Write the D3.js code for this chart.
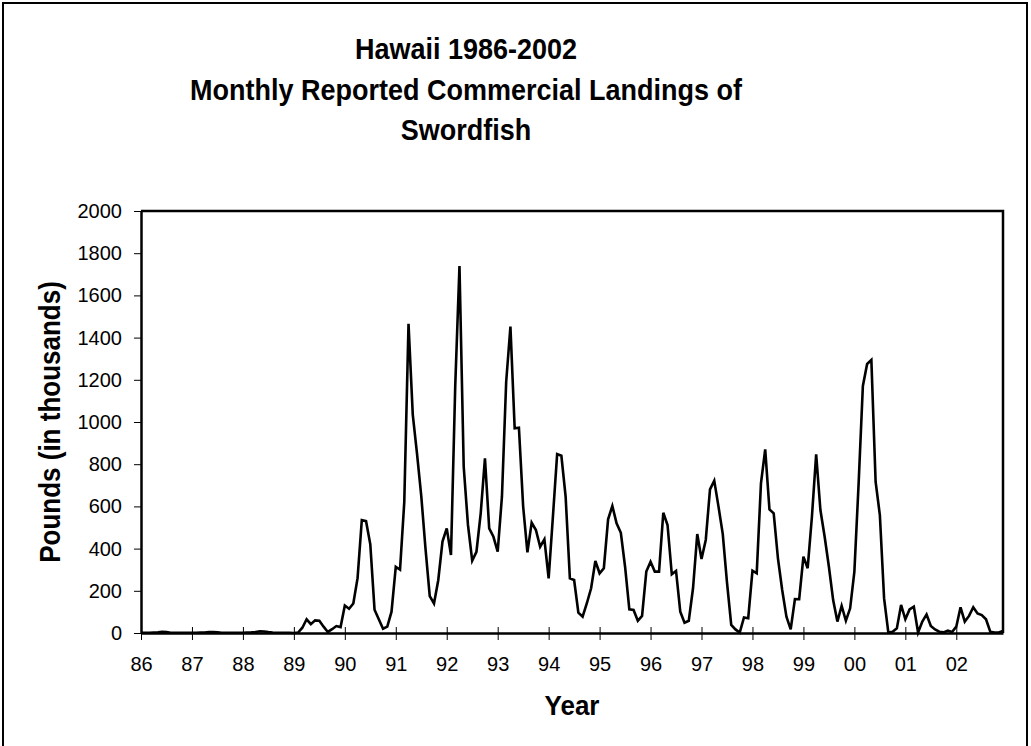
<!DOCTYPE html>
<meta charset="utf-8">
<style>
  body { margin: 0; background: #fff; }
  text { font-family: "Liberation Sans", Arial, sans-serif; fill: #000; }
</style>

<!-- Load d3.js -->
<script src="https://d3js.org/d3.v7.min.js"></script>

<div id="chart"></div>

<script>

// year labels on the x axis, one per january
var yearLabels = ["86", "87", "88", "89", "90", "91", "92", "93", "94",
                  "95", "96", "97", "98", "99", "00", "01", "02"]

var yTickValues = [0, 200, 400, 600, 800, 1000, 1200, 1400, 1600, 1800, 2000]

var titleLines = ["Hawaii 1986-2002", "Monthly Reported Commercial Landings of", "Swordfish"]

// monthly landings, thousands of pounds, jan 1986 .. dec 2002
var landings86to88 = [1, 1, 1, 2, 3, 6, 4, 1, 1, 1, 1, 1,
                      1, 1, 2, 2, 4, 5, 3, 1, 1, 1, 1, 1,
                      1, 2, 3, 5, 8, 7, 4, 2, 1, 1, 1, 1]
var landings89to91 = [0, 2, 25, 65, 42, 60, 58, 30, 5, 18, 33, 28,
                      130, 115, 140, 260, 535, 530, 420, 110, 65, 20, 30, 101,
                      314, 300, 620, 1465, 1035, 850, 650, 400, 175, 140, 250, 433]
var landings92to94 = [496, 370, 1170, 1739, 788, 512, 343, 385, 567, 828, 496, 456,
                      385, 646, 1191, 1452, 970, 973, 599, 382, 523, 488, 409, 444,
                      259, 550, 848, 840, 646, 259, 251, 96, 77, 141, 212, 341]
var landings95to97 = [283, 307, 539, 602, 520, 475, 314, 112, 109, 58, 81, 291,
                      338, 291, 291, 570, 512, 278, 294, 101, 49, 58, 212, 469,
                      351, 441, 681, 722, 599, 470, 240, 38, 17, 2, 74, 70]
var landings98to00 = [295, 283, 709, 870, 586, 567, 354, 204, 77, 17, 161, 160,
                      362, 307, 551, 847, 583, 456, 314, 156, 54, 129, 58, 117,
                      291, 709, 1171, 1275, 1294, 717, 559, 164, 2, 6, 22, 133]
var landings01to02 = [65, 112, 125, 2, 54, 88, 33, 17, 6, 3, 11, 5,
                      30, 122, 54, 81, 122, 93, 85, 65, 6, 2, 2, 10]

var landings = [].concat(landings86to88, landings89to91, landings92to94,
                         landings95to97, landings98to00, landings01to02)

// set the dimensions and margins of the graph
var W = 1031, H = 746
var margin = {top: 211, right: 28, bottom: 113, left: 141},
    width = W - margin.left - margin.right,
    height = H - margin.top - margin.bottom

var svg = d3.select("#chart")
  .append("svg")
    .attr("width", W)
    .attr("height", H)
    .style("display", "block")
    .style("background-color", "#ffffff")

// outer chart frame
svg.append("rect")
  .attr("x", 3).attr("y", 3)
  .attr("width", 1024).attr("height", 780)
  .attr("fill", "none")
  .attr("stroke", "#000")
  .attr("stroke-width", 2)

// title (glyphs a bit taller than the stock font, hence the scale)
svg.selectAll(".title")
  .data(titleLines)
  .enter()
  .append("text")
    .attr("class", "title")
    .attr("text-anchor", "middle")
    .attr("transform", function(d, i) { return "translate(466," + (59 + i * 40.5) + ") scale(1,1.1)" })
    .style("font-size", "27px")
    .style("font-weight", "bold")
    .text(function(d) { return d })

var g = svg.append("g")
  .attr("transform", "translate(" + margin.left + "," + margin.top + ")")

// scales: x is the month index
var x = d3.scaleLinear()
  .domain([0, landings.length - 1])
  .range([0, width])

var y = d3.scaleLinear()
  .domain([0, 2000])
  .range([height, 0])

// plot frame, top and right
g.append("path")
  .attr("d", "M0,0H" + width + "V" + height)
  .attr("fill", "none")
  .attr("stroke", "#000")
  .attr("stroke-width", 2.5)

// y axis
var yAxis = g.append("g")
  .call(d3.axisLeft(y)
    .tickValues(yTickValues)
    .tickFormat(d3.format("d"))
    .tickSize(7).tickPadding(12).tickSizeOuter(0))
yAxis.select(".domain").attr("stroke-width", 2.5)
yAxis.selectAll(".tick line").attr("stroke-width", 1)
yAxis.selectAll(".tick text")
  .style("font-size", "20px")
  .attr("fill", "#000")

// x axis, a tick every 12 months
var xAxis = g.append("g")
  .attr("transform", "translate(0," + height + ")")
  .call(d3.axisBottom(x)
    .tickValues(d3.range(0, landings.length, 12))
    .tickFormat(function(d, i) { return yearLabels[i] })
    .tickSizeOuter(0))
xAxis.select(".domain").attr("stroke-width", 2.5)
xAxis.selectAll(".tick line").attr("y1", -6).attr("y2", 7).attr("stroke-width", 1)
xAxis.selectAll(".tick text")
  .attr("y", 24)
  .style("font-size", "20px")
  .attr("fill", "#000")

// the series
var line = d3.line()
  .x(function(d, i) { return x(i) })
  .y(function(d) { return y(d) })

g.append("path")
  .datum(landings)
  .attr("d", line)
  .attr("fill", "none")
  .attr("stroke", "#000")
  .attr("stroke-width", 2.6)
  .attr("stroke-linejoin", "miter")

// axis titles
svg.append("text")
  .attr("text-anchor", "middle")
  .attr("transform", "translate(" + (margin.left + width / 2) + ",715) scale(1,1.08)")
  .style("font-size", "26px")
  .style("font-weight", "bold")
  .text("Year")

svg.append("text")
  .attr("text-anchor", "middle")
  .attr("transform", "translate(60," + (margin.top + height / 2) + ") rotate(-90) scale(1,1.1)")
  .style("font-size", "26px")
  .style("font-weight", "bold")
  .text("Pounds (in thousands)")

</script>
